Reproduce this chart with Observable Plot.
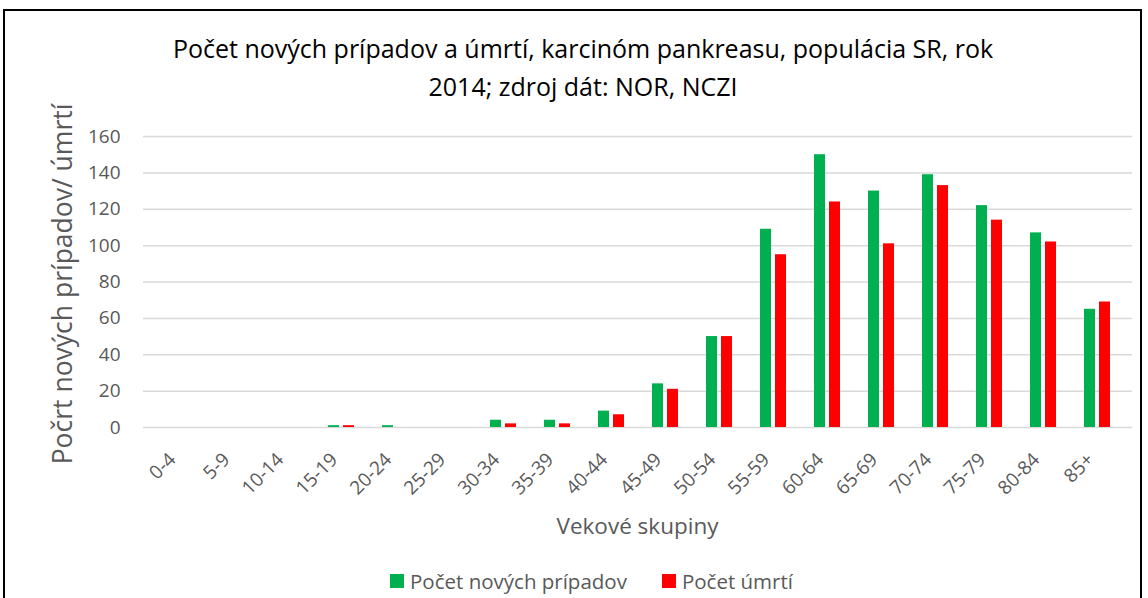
<!DOCTYPE html>
<html>
<head>
<meta charset="utf-8">
<script src="https://cdn.jsdelivr.net/npm/d3@7"></script>
<script src="https://cdn.jsdelivr.net/npm/@observablehq/plot@0.6"></script>
<style>
  html, body { margin: 0; padding: 0; background: #fff; overflow: hidden; }
  #wrap { position: relative; width: 1148px; height: 598px; font-family: "Open Sans", sans-serif; }
  #frame { position: absolute; left: 3px; top: 9px; width: 1139px; height: 620px; border: 2px solid #000; box-sizing: border-box; }
  #title { position: absolute; left: 0; width: 1166px; top: 29px; text-align: center; font-size: 25px; line-height: 38px; color: #000; }
  #chart { position: absolute; left: 0; top: 0; }
  #xtitle { position: absolute; left: 143px; width: 989px; top: 510px; text-align: center; font-size: 22.5px; color: #595959; }
  #ytitle { position: absolute; left: 62px; top: 284px; transform: translate(-50%, -50%) rotate(-90deg); white-space: nowrap; font-size: 26.5px; color: #595959; }
  #legend { position: absolute; top: 567px; left: 0; width: 1148px; display: flex; justify-content: center; gap: 35px; font-size: 20.5px; color: #595959; padding-left: 35px; box-sizing: border-box; }
  .item { display: flex; align-items: center; }
  .sw { width: 14px; height: 14px; margin-right: 6px; display: inline-block; }
</style>
</head>
<body>
<div id="wrap">
  <div id="frame"></div>
  <div id="title">Počet nových prípadov a úmrtí, karcinóm pankreasu, populácia SR, rok<br>2014; zdroj dát: NOR, NCZI</div>
  <div id="chart"></div>
  <div id="xtitle">Vekové skupiny</div>
  <div id="ytitle">Počrt nových prípadov/ úmrtí</div>
  <div id="legend"></div>
</div>
<script>
const ageGroups = ["0-4","5-9","10-14","15-19","20-24","25-29","30-34","35-39","40-44","45-49","50-54","55-59","60-64","65-69","70-74","75-79","80-84","85+"];
const newCases = [0,0,0,1,1,0,4,4,9,24,50,109,150,130,139,122,107,65];
const deaths   = [0,0,0,1,0,0,2,2,7,21,50,95,124,101,133,114,102,69];
const seriesNames = ["Počet nových prípadov","Počet úmrtí"];
const seriesColors = ["#00B050","#FF0000"];
const yTicks = [0,20,40,60,80,100,120,140,160];

const rowsNew = ageGroups.map((a,i) => ({age: a, value: newCases[i]}));
const rowsDeath = ageGroups.map((a,i) => ({age: a, value: deaths[i]}));

const chart = Plot.plot({
  width: 1148,
  height: 560,
  marginTop: 136,
  marginBottom: 133,
  marginLeft: 143,
  marginRight: 16,
  style: {fontFamily: "Open Sans, sans-serif", fontSize: "18px", color: "#595959", background: "transparent"},
  x: {domain: ageGroups, padding: 0, label: null},
  y: {domain: [0,160], label: null},
  marks: [
    Plot.gridY(yTicks, {stroke: "#d9d9d9", strokeOpacity: 1, strokeWidth: 1.5}),
    Plot.barY(rowsNew.filter(d => d.value > 0), {x: "age", y: "value", fill: seriesColors[0], insetLeft: 14, insetRight: 29}),
    Plot.barY(rowsDeath.filter(d => d.value > 0), {x: "age", y: "value", fill: seriesColors[1], insetLeft: 29, insetRight: 14}),
    Plot.axisY({ticks: yTicks, tickSize: 0, tickPadding: 23, label: null, fontSize: 19, fill: "#595959"}),
    Plot.axisX({tickSize: 0, tickRotate: -45, tickPadding: 25, dx: -7, dy: 4, label: null, fontSize: 19, fill: "#595959"})
  ]
});
document.getElementById("chart").appendChild(chart);

const legend = document.getElementById("legend");
seriesNames.forEach((n, i) => {
  const item = document.createElement("div");
  item.className = "item";
  const sw = document.createElement("span");
  sw.className = "sw";
  sw.style.background = seriesColors[i];
  item.appendChild(sw);
  item.appendChild(document.createTextNode(n));
  legend.appendChild(item);
});
</script>
</body>
</html>
